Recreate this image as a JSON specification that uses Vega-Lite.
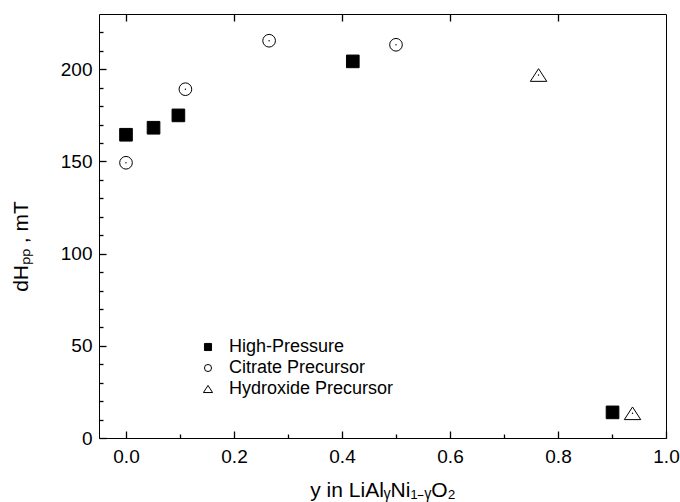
{
  "$schema": "https://vega.github.io/schema/vega-lite/v6.json",
  "width": 567,
  "height": 424,
  "autosize": {"type": "none"},
  "padding": {"left": 99, "top": 14, "right": 14, "bottom": 64},
  "background": "white",
  "config": {
    "view": {"stroke": "black", "strokeWidth": 1},
    "font": "Liberation Sans",
    "axis": {"grid": false, "domain": false, "ticks": true, "tickWidth": 1.3, "zindex": 1, "labelColor": "black", "tickColor": "black", "tickOpacity": 1, "titleColor": "black", "labelFont": "Liberation Sans", "titleFont": "Liberation Sans", "titleFontWeight": "normal", "labelFlush": false, "labelOverlap": false},
    "legend": {"orient": "none", "legendX": 100, "legendY": 324, "title": null, "labelFontSize": 18, "labelColor": "black", "labelFont": "Liberation Sans", "labelLimit": 400, "symbolSize": 50, "symbolStrokeWidth": 1, "labelOffset": 12, "rowPadding": 3, "padding": 0}
  },
  "data": {
    "values": [
      {"series": "High-Pressure", "y": 0.0, "dH": 164.5},
      {"series": "High-Pressure", "y": 0.051, "dH": 168.3},
      {"series": "High-Pressure", "y": 0.097, "dH": 175.0},
      {"series": "High-Pressure", "y": 0.42, "dH": 204.3},
      {"series": "High-Pressure", "y": 0.901, "dH": 13.9},
      {"series": "Citrate Precursor", "y": 0.0, "dH": 149.3},
      {"series": "Citrate Precursor", "y": 0.11, "dH": 189.2},
      {"series": "Citrate Precursor", "y": 0.265, "dH": 215.5},
      {"series": "Citrate Precursor", "y": 0.5, "dH": 213.3},
      {"series": "Hydroxide Precursor", "y": 0.764, "dH": 196.9},
      {"series": "Hydroxide Precursor", "y": 0.938, "dH": 13.4}
    ]
  },
  "resolve": {"axis": {"x": "independent", "y": "independent"}},
  "layer": [
    {
      "mark": {"type": "point", "filled": true, "strokeWidth": 1, "opacity": 1, "fillOpacity": 1, "strokeOpacity": 1, "size": 160},
      "encoding": {
        "x": {
          "field": "y", "type": "quantitative",
          "scale": {"domain": [-0.05, 1.0], "nice": false, "zero": false},
          "axis": {
            "orient": "bottom",
            "values": [0, 0.2, 0.4, 0.6, 0.8, 1.0],
            "format": ".1f",
            "offset": -7,
            "tickSize": 7,
            "labelFontSize": 19,
            "labelPadding": 9,
            "title": "y in LiAlᵧNi₁₋ᵧO₂",
            "titleFontSize": 21,
            "titleBaseline": "alphabetic",
            "titleY": 65
          }
        },
        "y": {
          "field": "dH", "type": "quantitative",
          "scale": {"domain": [0, 230], "nice": false, "zero": true},
          "axis": {
            "orient": "left",
            "values": [0, 50, 100, 150, 200],
            "format": "d",
            "offset": -7,
            "tickSize": 7,
            "labelFontSize": 19,
            "labelPadding": 7,
            "title": "dHₚₚ , mT",
            "titleFontSize": 21,
            "titleBaseline": "alphabetic",
            "titleX": -79,
            "titleY": 232
          }
        },
        "shape": {
          "field": "series", "type": "nominal",
          "scale": {"domain": ["High-Pressure", "Citrate Precursor", "Hydroxide Precursor"], "range": ["square", "circle", "M0,-1L1.3,1L-1.3,1Z"]}
        },
        "fill": {
          "field": "series", "type": "nominal",
          "scale": {"domain": ["High-Pressure", "Citrate Precursor", "Hydroxide Precursor"], "range": ["black", "white", "white"]}
        },
        "stroke": {
          "field": "series", "type": "nominal",
          "scale": {"domain": ["High-Pressure", "Citrate Precursor", "Hydroxide Precursor"], "range": ["black", "black", "black"]}
        }
      }
    },
    {
      "transform": [{"filter": "datum.series !== 'High-Pressure'"}],
      "mark": {"type": "circle", "size": 2, "color": "black", "opacity": 1},
      "encoding": {
        "x": {
          "field": "y", "type": "quantitative",
          "scale": {"domain": [-0.05, 1.0], "nice": false, "zero": false},
          "axis": {
            "orient": "bottom",
            "values": [0.1, 0.3, 0.5, 0.7, 0.9],
            "labels": false,
            "title": null,
            "offset": -4,
            "tickSize": 4
          }
        },
        "y": {
          "field": "dH", "type": "quantitative",
          "scale": {"domain": [0, 230], "nice": false, "zero": true},
          "axis": {
            "orient": "left",
            "values": [10, 20, 30, 40, 60, 70, 80, 90, 110, 120, 130, 140, 160, 170, 180, 190, 210, 220],
            "labels": false,
            "title": null,
            "offset": -4,
            "tickSize": 4
          }
        }
      }
    },
    {
      "mark": {"type": "circle", "size": 1, "opacity": 0},
      "encoding": {
        "x": {
          "field": "y", "type": "quantitative",
          "scale": {"domain": [-0.05, 1.0], "nice": false, "zero": false},
          "axis": {
            "orient": "top",
            "values": [0, 0.2, 0.4, 0.6, 0.8],
            "labels": false,
            "title": null,
            "offset": -7,
            "tickSize": 7
          }
        },
        "y": {
          "field": "dH", "type": "quantitative",
          "scale": {"domain": [0, 230], "nice": false, "zero": true},
          "axis": null
        }
      }
    }
  ]
}
